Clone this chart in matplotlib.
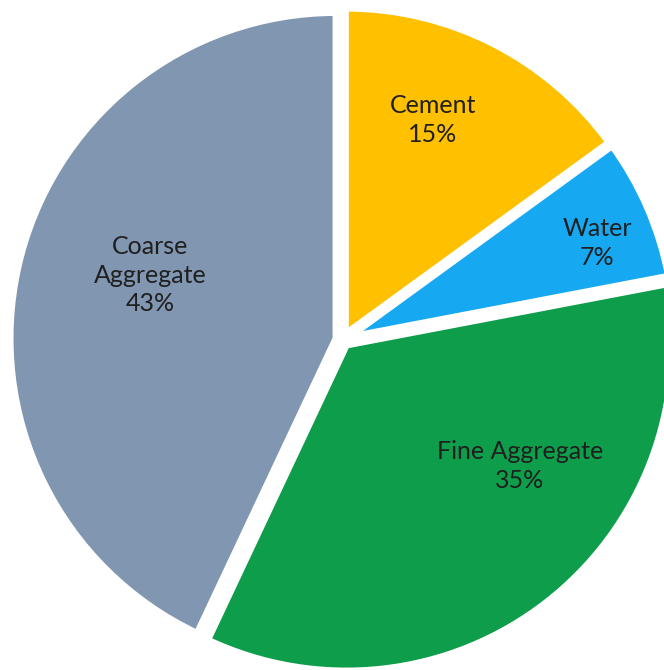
import matplotlib
matplotlib.use("Agg")
import matplotlib.pyplot as plt
import numpy as np

# data
labels = ["Cement", "Water", "Fine Aggregate", "Coarse\nAggregate"]
shares = [15, 7, 35, 43]
colors = ["#FFC000", "#17A8F2", "#0E9D4B", "#8196B0"]

# where each label sits (angle in degrees, distance as fraction of radius)
label_ang = [67.6, 20.8, -35.4, 161.4]
label_r = [0.729, 0.836, 0.668, 0.623]

fig = plt.figure(figsize=(6.64, 6.70), dpi=100)
ax = fig.add_axes([0, 0, 1, 1])

wedges, _ = ax.pie(shares, colors=colors, startangle=90, counterclock=False,
                   explode=[0.02] * 4,
                   wedgeprops=dict(edgecolor="white", linewidth=5))

for lab, val, a, r in zip(labels, shares, label_ang, label_r):
    x = r * np.cos(np.radians(a))
    y = r * np.sin(np.radians(a))
    ax.text(x, y, "%s\n%d%%" % (lab, val), ha="center", va="center",
            fontsize=18, color="#1f1f1f", family="Lato", linespacing=1.3)

ax.set_aspect("equal")
ax.set_xlim(-1.0503, 0.9865)
ax.set_ylim(-1.0126, 1.0426)
ax.axis("off")

fig.savefig("out.png", dpi=100)
